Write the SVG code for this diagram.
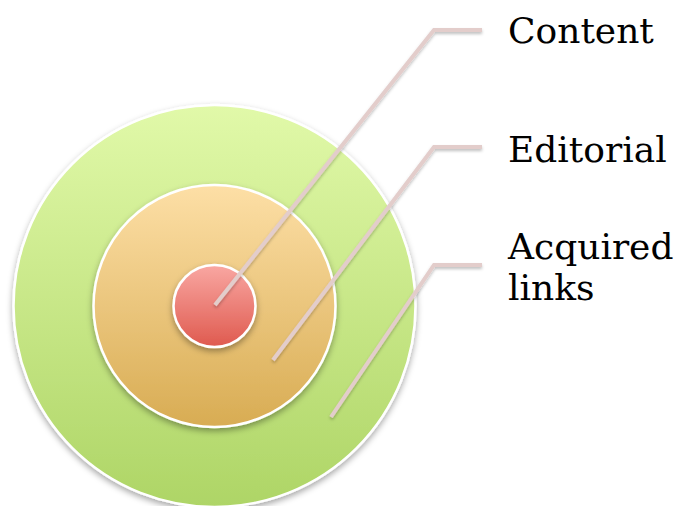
<svg xmlns="http://www.w3.org/2000/svg" width="676" height="506" viewBox="0 0 676 506">
  <defs>
    <linearGradient id="gGreen" x1="0" y1="0" x2="0" y2="1">
      <stop offset="0" stop-color="#E1F9A9"/>
      <stop offset="1" stop-color="#AED566"/>
    </linearGradient>
    <linearGradient id="gOrange" x1="0" y1="0" x2="0" y2="1">
      <stop offset="0" stop-color="#FDDFA6"/>
      <stop offset="1" stop-color="#D8AC53"/>
    </linearGradient>
    <linearGradient id="gRed" x1="0" y1="0" x2="0" y2="1">
      <stop offset="0" stop-color="#F9A7A2"/>
      <stop offset="1" stop-color="#DF5A4F"/>
    </linearGradient>
    <filter id="shadow" x="-20%" y="-20%" width="140%" height="140%">
      <feDropShadow dx="0" dy="3" stdDeviation="3" flood-color="#000" flood-opacity="0.35"/>
    </filter>
    <filter id="lineShadow" x="-20%" y="-20%" width="140%" height="140%">
      <feDropShadow dx="0" dy="2" stdDeviation="1.5" flood-color="#000" flood-opacity="0.25"/>
    </filter>
  </defs>
  <style>
    .ring { stroke: #FFFFFF; stroke-width: 2.5; filter: url(#shadow); }
    .conn { fill: none; stroke: #E3CDCB; stroke-width: 4; stroke-linejoin: miter; filter: url(#lineShadow); }
    .label { font-family: "DejaVu Serif", "Liberation Serif", serif; font-size: 36px; fill: #000000; }
  </style>
  <rect width="676" height="506" fill="#FFFFFF"/>
  <g id="ring-acquired">
    <circle class="ring" cx="214.5" cy="306" r="201" fill="url(#gGreen)"/>
  </g>
  <g id="ring-editorial">
    <circle class="ring" cx="214.5" cy="306" r="121" fill="url(#gOrange)"/>
  </g>
  <g id="ring-content">
    <circle class="ring" cx="214.5" cy="306" r="41" fill="url(#gRed)"/>
  </g>
  <g id="connectors">
    <polyline class="conn" points="215,305 434,30 482,30"/>
    <polyline class="conn" points="273,360 434,147 482,147"/>
    <polyline class="conn" points="331,417 434,265 482,265"/>
  </g>
  <g id="label-content">
    <text class="label" x="508" y="43">Content</text>
  </g>
  <g id="label-editorial">
    <text class="label" x="508" y="162">Editorial</text>
  </g>
  <g id="label-acquired">
    <text class="label" x="508" y="259">Acquired</text>
    <text class="label" x="508" y="300">links</text>
  </g>
</svg>
